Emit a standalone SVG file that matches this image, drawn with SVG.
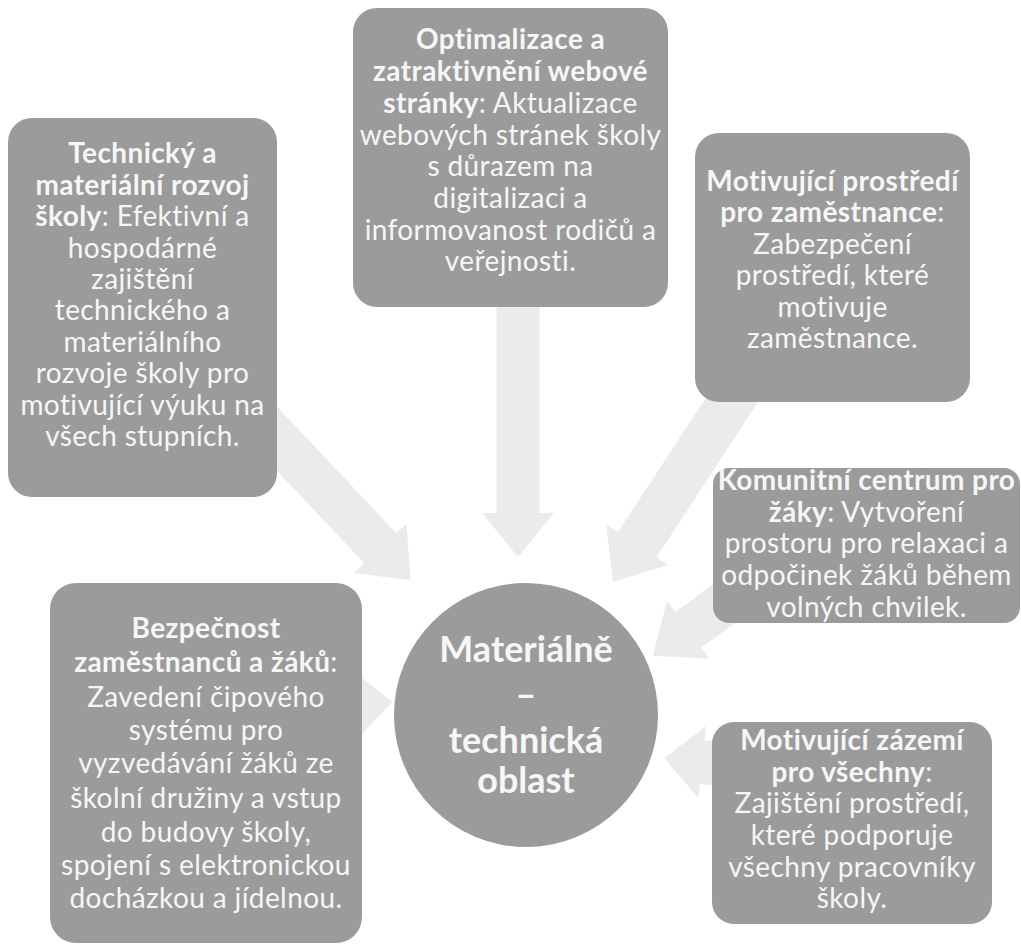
<svg xmlns="http://www.w3.org/2000/svg" width="1021" height="951" viewBox="0 0 1021 951">
<style>
.bg{fill:#ffffff}
.box{fill:#9b9b9b}
.arr{fill:#ebebeb}
.t{font-family:Lato,"Open Sans","Liberation Sans",sans-serif;font-size:28px;letter-spacing:0.4px;fill:#f6f6f6;text-anchor:middle}
.b{font-weight:bold}
.c{font-family:Lato,"Open Sans","Liberation Sans",sans-serif;font-size:36px;font-weight:bold;fill:#f6f6f6;text-anchor:middle}
</style>
<rect class="bg" x="0" y="0" width="1021" height="951"/>
<g id="connectors">
  <g transform="translate(518,300) rotate(90)"><path class="arr" d="M0,-21.5 H213 V-36 L257,0 L213,36 V21.5 H0 Z"/></g>
  <g transform="translate(250,410) rotate(46.7)"><path class="arr" d="M0,-22 H190 V-36 L234,0 L190,36 V22 H0 Z"/></g>
  <g transform="translate(745,380) rotate(123.2)"><path class="arr" d="M0,-23 H197 V-37 L241,0 L197,37 V23 H0 Z"/></g>
  <g transform="translate(740,592) rotate(143.8)"><path class="arr" d="M0,-22 H64 V-36 L108,0 L64,36 V22 H0 Z"/></g>
  <g transform="translate(730,765) rotate(186)"><path class="arr" d="M0,-22 H28 V-36 L66,0 L28,36 V22 H0 Z"/></g>
  <g transform="translate(350,705) rotate(-4)"><path class="arr" d="M0,-20 H8 V-32 L42,0 L8,32 V20 H0 Z"/></g>
</g>
<g id="center">
  <circle class="box" cx="526" cy="715" r="132"/>
  <text class="c" x="526" y="662">Materiálně</text>
  <text class="c" x="526" y="707">–</text>
  <text class="c" x="526" y="753">technická</text>
  <text class="c" x="526" y="793">oblast</text>
</g>
<g id="node-technicky">
  <rect class="box" x="8" y="118" width="269" height="379" rx="24"/>
  <text class="t" x="142.5" y="163"><tspan class="b">Technický a</tspan></text>
  <text class="t" x="142.5" y="195"><tspan class="b">materiální rozvoj</tspan></text>
  <text class="t" x="142.5" y="226"><tspan class="b">školy</tspan>: Efektivní a</text>
  <text class="t" x="142.5" y="258">hospodárné</text>
  <text class="t" x="142.5" y="289">zajištění</text>
  <text class="t" x="142.5" y="320">technického a</text>
  <text class="t" x="142.5" y="352">materiálního</text>
  <text class="t" x="142.5" y="383">rozvoje školy pro</text>
  <text class="t" x="142.5" y="415">motivující výuku na</text>
  <text class="t" x="142.5" y="446">všech stupních.</text>
</g>
<g id="node-web">
  <rect class="box" x="353" y="8" width="315" height="299" rx="24"/>
  <text class="t" x="510.5" y="49"><tspan class="b">Optimalizace a</tspan></text>
  <text class="t" x="510.5" y="81"><tspan class="b">zatraktivnění webové</tspan></text>
  <text class="t" x="510.5" y="113"><tspan class="b">stránky</tspan>: Aktualizace</text>
  <text class="t" x="510.5" y="145">webových stránek školy</text>
  <text class="t" x="510.5" y="176">s důrazem na</text>
  <text class="t" x="510.5" y="208">digitalizaci a</text>
  <text class="t" x="510.5" y="240">informovanost rodičů a</text>
  <text class="t" x="510.5" y="271">veřejnosti.</text>
</g>
<g id="node-prostredi">
  <rect class="box" x="695" y="133" width="275" height="269" rx="24"/>
  <text class="t" x="832.5" y="191"><tspan class="b">Motivující prostředí</tspan></text>
  <text class="t" x="832.5" y="222"><tspan class="b">pro zaměstnance</tspan>:</text>
  <text class="t" x="832.5" y="254">Zabezpečení</text>
  <text class="t" x="832.5" y="285">prostředí, které</text>
  <text class="t" x="832.5" y="317">motivuje</text>
  <text class="t" x="832.5" y="348">zaměstnance.</text>
</g>
<g id="node-komunitni">
  <rect class="box" x="713" y="468" width="307" height="155" rx="16"/>
  <text class="t" x="866.5" y="490"><tspan class="b">Komunitní centrum pro</tspan></text>
  <text class="t" x="866.5" y="522"><tspan class="b">žáky</tspan>: Vytvoření</text>
  <text class="t" x="866.5" y="553">prostoru pro relaxaci a</text>
  <text class="t" x="866.5" y="585">odpočinek žáků během</text>
  <text class="t" x="866.5" y="617">volných chvilek.</text>
</g>
<g id="node-zazemi">
  <rect class="box" x="712" y="722" width="280" height="202" rx="22"/>
  <text class="t" x="852" y="750"><tspan class="b">Motivující zázemí</tspan></text>
  <text class="t" x="852" y="782"><tspan class="b">pro všechny</tspan>:</text>
  <text class="t" x="852" y="813">Zajištění prostředí,</text>
  <text class="t" x="852" y="845">které podporuje</text>
  <text class="t" x="852" y="877">všechny pracovníky</text>
  <text class="t" x="852" y="908">školy.</text>
</g>
<g id="node-bezpecnost">
  <rect class="box" x="50" y="583" width="312" height="360" rx="26"/>
  <text class="t" x="206" y="638"><tspan class="b">Bezpečnost</tspan></text>
  <text class="t" x="206" y="672"><tspan class="b">zaměstnanců a žáků</tspan>:</text>
  <text class="t" x="206" y="707">Zavedení čipového</text>
  <text class="t" x="206" y="740">systému pro</text>
  <text class="t" x="206" y="773">vyzvedávání žáků ze</text>
  <text class="t" x="206" y="808">školní družiny a vstup</text>
  <text class="t" x="206" y="842">do budovy školy,</text>
  <text class="t" x="206" y="875">spojení s elektronickou</text>
  <text class="t" x="206" y="908">docházkou a jídelnou.</text>
</g>
</svg>
